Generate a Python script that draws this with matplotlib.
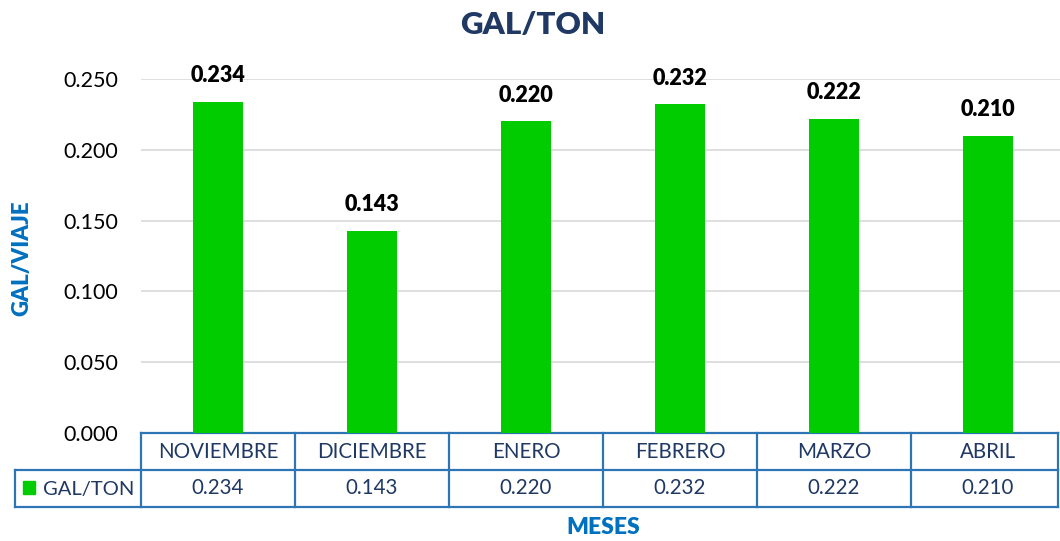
import matplotlib
matplotlib.use("Agg")
import matplotlib.pyplot as plt
import matplotlib.transforms as mtransforms
from matplotlib.patches import Rectangle

plt.rcParams['font.family'] = ['Lato', 'DejaVu Sans']

meses = ['NOVIEMBRE', 'DICIEMBRE', 'ENERO', 'FEBRERO', 'MARZO', 'ABRIL']
gal_ton = [0.234, 0.143, 0.220, 0.232, 0.222, 0.210]
yticks = [0.0, 0.05, 0.10, 0.15, 0.20, 0.25]

bar_color = '#00CC00'
navy = '#1F3864'
blue = '#0070C0'
border = '#2E75B6'

W, H = 1060, 541
fig = plt.figure(figsize=(W / 100, H / 100), dpi=100)
left, right, top, bottom = 141, 1065, 79, 433
ax = fig.add_axes([left / W, 1 - bottom / H, (right - left) / W, (bottom - top) / H])

x = list(range(len(meses)))
ax.bar(x, gal_ton, width=0.32, color=bar_color, zorder=3)
for xi, v in zip(x, gal_ton):
    ax.annotate(f'{v:.3f}', (xi, v), xytext=(0, 11), textcoords='offset points',
                ha='center', va='bottom', fontsize=15.5, fontweight='heavy', color='black',
                annotation_clip=False)

ax.set_xlim(-0.5, len(meses) - 0.5)
ax.set_ylim(0, 0.25)
ax.set_yticks(yticks)
ax.set_yticklabels([f'{t:.3f}' for t in yticks], fontsize=15.5)
ax.tick_params(axis='y', length=0, pad=16.5)
ax.set_xticks([])
ax.grid(axis='y', color='#D9D9D9', linewidth=1.2, zorder=0)
for s in ax.spines.values():
    s.set_visible(False)

# data table under the plot: header row of months, one row of values
trans = mtransforms.blended_transform_factory(ax.transData, ax.transAxes)
row_h = 37 / (bottom - top)
y_top, y_mid, y_bot = 0, -row_h, -2 * row_h
lw = 1.6
n = len(meses)
xr = (W - 2 - left) / (right - left) * n - 0.5
ax.plot([-0.5, xr], [y_top, y_top], transform=trans, color=border, lw=lw, clip_on=False)
legend_x = -0.5 - (left - 15) / ((right - left) / n)
for yy in (y_mid, y_bot):
    ax.plot([legend_x, xr], [yy, yy], transform=trans, color=border, lw=lw, clip_on=False)
for i in range(n):
    ax.plot([i - 0.5, i - 0.5], [y_top, y_bot], transform=trans, color=border, lw=lw, clip_on=False)
ax.plot([xr, xr], [y_top, y_bot], transform=trans, color=border, lw=lw, clip_on=False)
ax.plot([legend_x, legend_x], [y_mid, y_bot], transform=trans, color=border, lw=lw, clip_on=False)

for i, (m, v) in enumerate(zip(meses, gal_ton)):
    ax.text(i, (y_top + y_mid) / 2, m, transform=trans, ha='center', va='center',
            fontsize=14.8, color=navy, clip_on=False)
    ax.text(i, (y_mid + y_bot) / 2, f'{v:.3f}', transform=trans, ha='center', va='center',
            fontsize=14.8, color=navy, clip_on=False)

# legend key inside the row header cell
fig.patches.append(Rectangle((23 / W, 1 - 494 / H), 12 / W, 13 / H, transform=fig.transFigure,
                             color=bar_color))
fig.text(43 / W, 1 - 489 / H, 'GAL/TON', ha='left', va='center', fontsize=14.5, color=navy)

fig.text(533 / W, 1 - 25 / H, 'GAL/TON', ha='center', va='center', fontsize=22.5,
         fontweight='heavy', color=navy)
fig.text(22 / W, 1 - 258 / H, 'GAL/VIAJE', ha='center', va='center', rotation=90,
         fontsize=16, fontweight='heavy', color=blue)
fig.text(603 / W, 1 - 528 / H, 'MESES', ha='center', va='center', fontsize=16.5,
         fontweight='heavy', color=blue)

fig.savefig('out.png', dpi=100)
